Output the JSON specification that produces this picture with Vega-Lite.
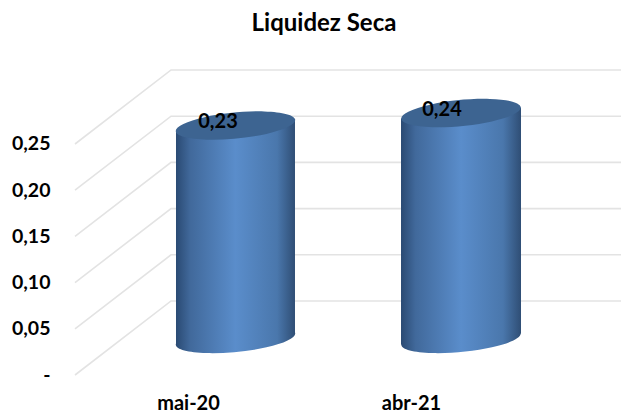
{
"$schema":"https://vega.github.io/schema/vega-lite/v6.json",
"autosize":"none","width":546,"height":335,
"padding":{"left":75,"top":40,"right":0,"bottom":39},
"background":"white",
"title":{"text":"Liquidez Seca","font":"Lato","fontSize":24,"fontWeight":"bold","color":"#000000","anchor":"middle","dx":-24,"offset":4},
"config":{"view":{"stroke":null}},
"datasets":{
"grid":[
{"v":0,"x":0.4933,"y":0},{"v":0,"x":0.924,"y":0.0801},{"v":0,"x":2.9417,"y":0.0801},
{"v":0.05,"x":0.4933,"y":0.05},{"v":0.05,"x":0.924,"y":0.1301},{"v":0.05,"x":2.9417,"y":0.1301},
{"v":0.1,"x":0.4933,"y":0.1},{"v":0.1,"x":0.924,"y":0.1801},{"v":0.1,"x":2.9417,"y":0.1801},
{"v":0.15,"x":0.4933,"y":0.15},{"v":0.15,"x":0.924,"y":0.2301},{"v":0.15,"x":2.9417,"y":0.2301},
{"v":0.2,"x":0.4933,"y":0.2},{"v":0.2,"x":0.924,"y":0.2801},{"v":0.2,"x":2.9417,"y":0.2801},
{"v":0.25,"x":0.4933,"y":0.25},{"v":0.25,"x":0.924,"y":0.3301},{"v":0.25,"x":2.9417,"y":0.3301}],
"sides":[
{"cat":"mai-20","x":0.9462,"top":0.2641,"bottom":0.033},
{"cat":"mai-20","x":1.4798,"top":0.276,"bottom":0.0449},
{"cat":"abr-21","x":1.9552,"top":0.2776,"bottom":0.033},
{"cat":"abr-21","x":2.4933,"top":0.2895,"bottom":0.0449}],
"caps":[
{"cat":"mai-20","x":1.213,"top":0.27,"bottom":0.039,"value":"0,23","lx":1.1345,"ly":0.2738},
{"cat":"abr-21","x":2.2242,"top":0.2835,"bottom":0.039,"value":"0,24","lx":2.139,"ly":0.2868}]
},
"layer":[
{"data":{"name":"grid"},
 "mark":{"type":"line","color":"#e3e3e3","strokeWidth":1.6},
 "encoding":{
  "x":{"field":"x","type":"quantitative","title":null,
    "scale":{"domain":[0.4933,2.9417],"nice":false,"zero":false},
    "axis":{"values":[1,2],"labelExpr":"datum.value==1?'mai-20':'abr-21'","domain":false,"ticks":false,"grid":false,"labelFont":"Lato","labelFontSize":20,"labelFontWeight":"bold","labelColor":"#000000","labelPadding":18,"labelFlush":false}},
  "y":{"field":"y","type":"quantitative","title":null,
    "scale":{"domain":[0,0.36255],"nice":false,"zero":false},
    "axis":{"values":[0,0.05,0.1,0.15,0.2,0.25],"labelExpr":"datum.value==0?'-\u00a0\u00a0\u00a0':replace(format(datum.value,'.2f'),'.',',')","domain":false,"ticks":false,"grid":false,"labelFont":"Lato","labelFontSize":19.5,"labelFontWeight":"bold","labelColor":"#000000","labelPadding":25,"labelFlush":false}},
  "detail":{"field":"v"}}},
{"data":{"name":"caps"},
 "mark":{"type":"point","filled":true,"opacity":1,"size":14400,
  "shape":"M -0.9954 0.0958 A 1 0.217 -5.5 1 1 0.9954 -0.0958 A 1 0.217 -5.5 1 1 -0.9954 0.0958 Z",
  "color":{"gradient":"linear","x1":0,"x2":1,"y1":0,"y2":0,"stops":[{"offset":0,"color":"#2a4a73"},{"offset":0.12,"color":"#41699b"},{"offset":0.5,"color":"#5a8dcb"},{"offset":0.85,"color":"#4a77ac"},{"offset":1,"color":"#2f4e75"}]}},
 "encoding":{"x":{"field":"x","type":"quantitative"},"y":{"field":"bottom","type":"quantitative"}}},
{"data":{"name":"sides"},
 "mark":{"type":"area","opacity":1,
  "color":{"gradient":"linear","x1":0,"x2":1,"y1":0,"y2":0,"stops":[{"offset":0,"color":"#2a4a73"},{"offset":0.12,"color":"#41699b"},{"offset":0.5,"color":"#5a8dcb"},{"offset":0.85,"color":"#4a77ac"},{"offset":1,"color":"#2f4e75"}]}},
 "encoding":{"x":{"field":"x","type":"quantitative"},"y":{"field":"top","type":"quantitative"},"y2":{"field":"bottom"},"detail":{"field":"cat"}}},
{"data":{"name":"caps"},
 "mark":{"type":"point","filled":true,"opacity":1,"size":14400,"color":"#3d6491",
  "shape":"M -0.9954 0.0958 A 1 0.217 -5.5 1 1 0.9954 -0.0958 A 1 0.217 -5.5 1 1 -0.9954 0.0958 Z"},
 "encoding":{"x":{"field":"x","type":"quantitative"},"y":{"field":"top","type":"quantitative"}}},
{"data":{"name":"caps"},
 "mark":{"type":"text","font":"Lato","fontSize":20,"fontWeight":"bold","color":"#000000","align":"center","baseline":"middle"},
 "encoding":{"x":{"field":"lx","type":"quantitative"},"y":{"field":"ly","type":"quantitative"},"text":{"field":"value"}}}
]
}
